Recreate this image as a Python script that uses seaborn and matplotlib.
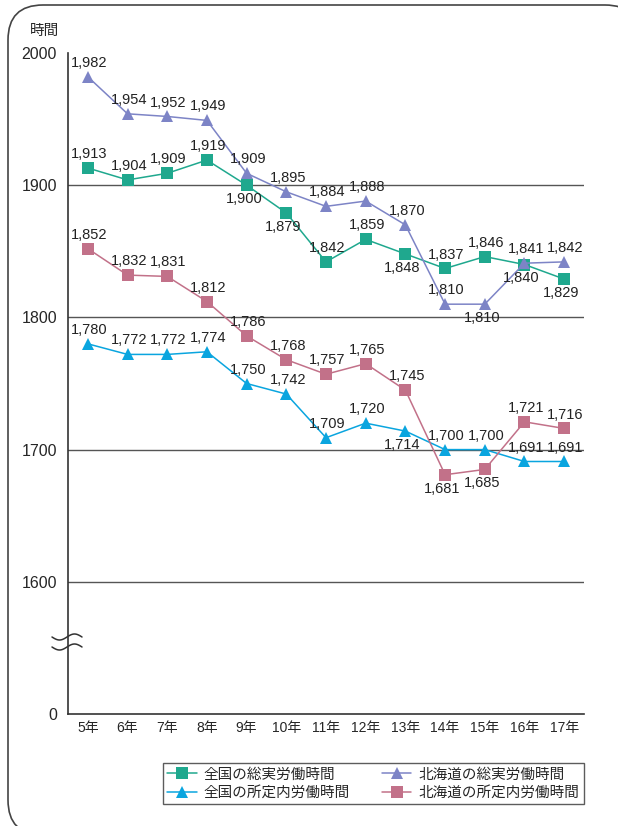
import numpy as np
import pandas as pd
import seaborn as sns
import matplotlib.pyplot as plt
from matplotlib.patches import FancyBboxPatch
from matplotlib.lines import Line2D

years = ['5年', '6年', '7年', '8年', '9年', '10年', '11年', '12年', '13年', '14年', '15年', '16年', '17年']
zenkoku_total = [1913, 1904, 1909, 1919, 1900, 1879, 1842, 1859, 1848, 1837, 1846, 1840, 1829]
hokkaido_total = [1982, 1954, 1952, 1949, 1909, 1895, 1884, 1888, 1870, 1810, 1810, 1841, 1842]
zenkoku_sched = [1780, 1772, 1772, 1774, 1750, 1742, 1709, 1720, 1714, 1700, 1700, 1691, 1691]
hokkaido_sched = [1852, 1832, 1831, 1812, 1786, 1768, 1757, 1765, 1745, 1681, 1685, 1721, 1716]
y_ticks = [1500, 1600, 1700, 1800, 1900, 2000]
y_tick_labels = ['0', '1600', '1700', '1800', '1900', '2000']

names = ['全国の総実労働時間', '北海道の総実労働時間', '全国の所定内労働時間', '北海道の所定内労働時間']
series = [zenkoku_total, hokkaido_total, zenkoku_sched, hokkaido_sched]
colors = ['#1FA88E', '#7D84C6', '#0AA5DF', '#C27189']
markers = ['s', '^', '^', 's']
# label placement: a = above, b = below
place = [
    'aaaabbaabaabb',
    'aaaaaaaaaabaa',
    'aaaaaaaabaaaa',
    'aaaaaaaaabbaa',
]

sns.set_style('white')
plt.rcParams['font.family'] = ['Liberation Sans', 'Noto Sans CJK JP', 'DejaVu Sans']

rows = []
for name, vals in zip(names, series):
    for i, v in enumerate(vals):
        rows.append({'pos': i, 'val': v, 'series': name})
df = pd.DataFrame(rows)

fig = plt.figure(figsize=(6.18, 8.26), dpi=100)

# rounded outer frame (pixel coords)
bg = fig.add_axes([0, 0, 1, 1], zorder=-1)
bg.set_xlim(0, 618)
bg.set_ylim(826, 0)
bg.axis('off')
bg.add_patch(FancyBboxPatch((8, 5), 632, 830, boxstyle='round,pad=0,rounding_size=35',
                            fc='white', ec='#444444', lw=1.2))

ax = fig.add_axes([68 / 618, 1 - 714 / 826, (584 - 68) / 618, (714 - 53) / 826])
ax.set_facecolor('none')

sns.lineplot(data=df, x='pos', y='val', hue='series', style='series',
             palette=dict(zip(names, colors)), markers=dict(zip(names, markers)),
             dashes=False, markersize=9, markeredgewidth=0, linewidth=1.1,
             legend=False, ax=ax, zorder=3)

for vals, pl in zip(series, place):
    for i, (v, p) in enumerate(zip(vals, pl)):
        if p == 'a':
            ax.annotate(f'{v:,}', (i, v), xytext=(1, 5), textcoords='offset points',
                        ha='center', va='bottom', fontsize=10.5, color='#222222', zorder=5)
        else:
            ax.annotate(f'{v:,}', (i, v), xytext=(-2, -5), textcoords='offset points',
                        ha='center', va='top', fontsize=10.5, color='#222222', zorder=5)

ax.set_xlim(-0.5, 12.5)
ax.set_ylim(1500, 2000)
for g in [1600, 1700, 1800, 1900]:
    ax.axhline(g, color='#555555', lw=1, zorder=1)

ax.set_xticks(range(len(years)))
ax.set_xticklabels(years, fontsize=10)
ax.set_xticks(np.arange(0.5, 13, 1), minor=True)
ax.tick_params(axis='x', which='major', length=0, pad=5)
ax.tick_params(axis='x', which='minor', direction='in', length=11, width=1, color='#333333')
ax.set_yticks(y_ticks)
ax.set_yticklabels(y_tick_labels, fontsize=11.5)
ax.tick_params(axis='y', direction='in', length=6, width=1, color='#333333', pad=8)
ax.set_xlabel('')
ax.set_ylabel('')
for s in ['top', 'right']:
    ax.spines[s].set_visible(False)
for s in ['left', 'bottom']:
    ax.spines[s].set_color('#333333')
    ax.spines[s].set_linewidth(1.2)

# axis break marks
t = np.linspace(0, 1, 60)
bg.fill_between(52 + 30 * t, 637 + 3 * np.sin(2 * np.pi * t), 647 + 3 * np.sin(2 * np.pi * t),
                color='white', zorder=5)
for yy in [637, 647]:
    bg.plot(52 + 30 * t, yy + 3 * np.sin(2 * np.pi * t), color='#333333', lw=1.1, zorder=6)

fig.text(45 / 618, 1 - 31 / 826, '時間', fontsize=10.5, ha='center', va='center')

handles = [Line2D([], [], color=c, marker=m, markersize=9, markeredgewidth=0, lw=1.1)
           for c, m in zip(colors, markers)]
order = [0, 2, 1, 3]
leg = fig.legend([handles[i] for i in order], [names[i] for i in order], ncol=2,
                 loc='upper left', bbox_to_anchor=(163 / 618, 1 - 763 / 826),
                 fontsize=10.5, frameon=True, fancybox=False, edgecolor='#333333',
                 handlelength=2.0, columnspacing=2.2, labelspacing=0.3,
                 borderpad=0.3, handletextpad=0.5, borderaxespad=0)
leg.get_frame().set_linewidth(1)

fig.savefig('out.png', dpi=100)
